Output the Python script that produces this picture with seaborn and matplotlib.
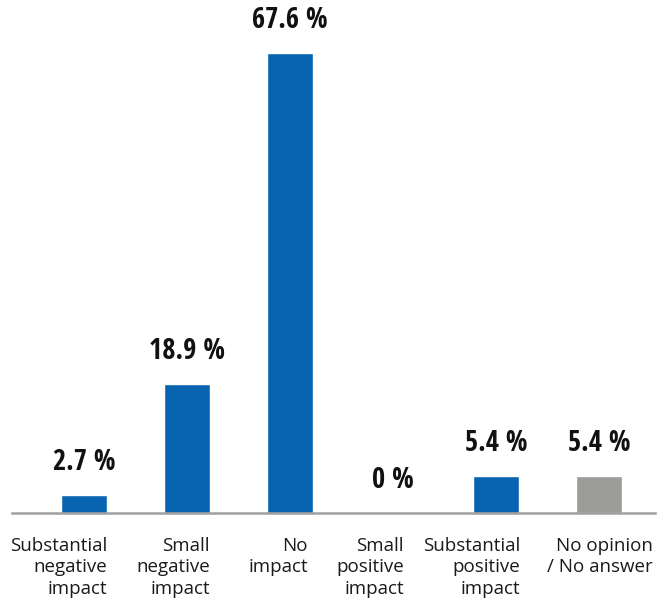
import matplotlib
matplotlib.use("Agg")
import matplotlib.pyplot as plt
import seaborn as sns
import pandas as pd

categories = [
    "Substantial\nnegative\nimpact",
    "Small\nnegative\nimpact",
    "No\nimpact",
    "Small\npositive\nimpact",
    "Substantial\npositive\nimpact",
    "No opinion\n/ No answer",
]
values = [2.7, 18.9, 67.6, 0.0, 5.4, 5.4]
value_labels = ["2.7 %", "18.9 %", "67.6 %", "0 %", "5.4 %", "5.4 %"]
bar_colors = ["#0864b0", "#0864b0", "#0864b0", "#0864b0", "#0864b0", "#9c9c9b"]

df = pd.DataFrame({"category": categories, "value": values})

sns.set_theme(style="white")
plt.rcParams["font.family"] = ["Open Sans", "DejaVu Sans"]

fig = plt.figure(figsize=(6.67, 6.01), dpi=100)
ax = fig.add_axes([12 / 667, 88 / 601, 643 / 667, 513 / 601])

sns.barplot(data=df, x="category", y="value", hue="category",
            palette=bar_colors, width=0.45, legend=False, ax=ax,
            saturation=1)

ax.set_xlim(-0.70, 5.544)
ax.set_ylim(0, 75.4)

for side in ("top", "right", "left"):
    ax.spines[side].set_visible(False)
ax.spines["bottom"].set_color("#a0a0a0")
ax.spines["bottom"].set_linewidth(1.8)
ax.set_yticks([])
ax.set_xticks([])
ax.set_xlabel("")
ax.set_ylabel("")

# value labels above each bar
for i, (v, lab) in enumerate(zip(values, value_labels)):
    ax.annotate(lab, xy=(i, v), xytext=(0, 13), textcoords="offset points",
                ha="center", va="bottom", fontsize=20.5, fontweight="bold",
                family=["Open Sans Condensed", "DejaVu Sans"],
                color="#111111")

# category labels, right aligned under each bar
label_shift = [0.223, 0.223, 0.175, 0.107, 0.233, 0.52]
trans = ax.get_xaxis_transform()
for i, (cat, dx) in enumerate(zip(categories, label_shift)):
    ax.annotate(cat, xy=(i + dx, 0), xycoords=trans,
                xytext=(0, -17), textcoords="offset points",
                ha="right", va="top", multialignment="right",
                fontsize=13.5, color="#1a1a1a", linespacing=1.27)

fig.savefig("out.png", dpi=100)
